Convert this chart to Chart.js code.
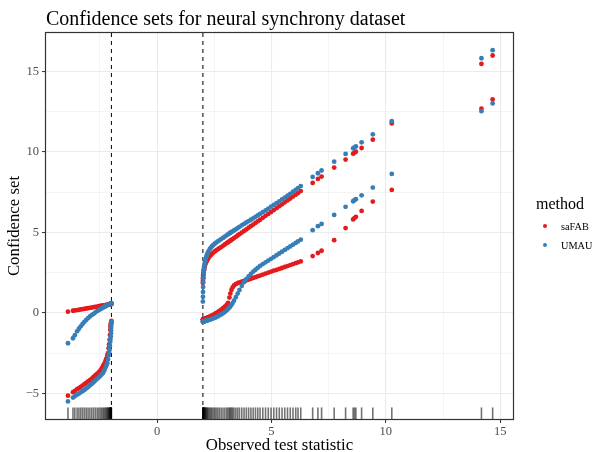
<!DOCTYPE html>
<html>
<head>
<meta charset="utf-8">
<title>Confidence sets for neural synchrony dataset</title>
<script src="https://cdn.jsdelivr.net/npm/chart.js@4.4.1/dist/chart.umd.min.js"></script>
<style>
  html, body { margin: 0; padding: 0; background: #fff; }
  #wrap { position: relative; width: 600px; height: 452px; font-family: "Liberation Serif", serif; color: #000; }
  #chart { display: block; }
  #title { position: absolute; left: 46px; top: 8px; font-size: 20px; line-height: 21px; white-space: nowrap; }
  #legend { position: absolute; left: 536px; top: 196px; width: 64px; height: 70px; }
  #legend .lg-title { position: absolute; left: 0; top: 0; font-size: 16px; line-height: 16px; }
  #legend .lg-item { position: absolute; left: 0; height: 19px; width: 64px; }
  #legend .dot { position: absolute; left: 6.7px; top: 7.2px; width: 4.6px; height: 4.6px; border-radius: 50%; }
  #legend .lg-text { position: absolute; left: 25px; top: 0; font-size: 10.3px; line-height: 19px; }
</style>
</head>
<body>
<div id="wrap">
  <canvas id="chart" width="600" height="452"></canvas>
  <div id="title">Confidence sets for neural synchrony dataset</div>
  <div id="legend"></div>
</div>
<script>
// observed z statistics (selected: |z| > 2) and the interval ends for each method
const zStat = [
  -3.90, -3.68, -3.60, -3.50, -3.42, -3.34, -3.26, -3.18, -3.10, -3.02,
  -2.94, -2.86, -2.78, -2.70, -2.62, -2.55, -2.48, -2.42, -2.36, -2.31,
  -2.26, -2.22, -2.18, -2.15, -2.12, -2.10, -2.08, -2.065, -2.05, -2.04,
  -2.03, -2.02, -2.015, -2.01, -2.005, -2.00,
  2.000, 2.003, 2.006, 2.010, 2.015, 2.020, 2.030, 2.040, 2.050, 2.060,
  2.080, 2.100, 2.120, 2.150, 2.180, 2.210, 2.250, 2.300, 2.350, 2.400,
  2.460, 2.520, 2.580, 2.650, 2.720, 2.800, 2.880, 2.960, 3.040, 3.100,
  3.160, 3.200, 3.250, 3.300, 3.360, 3.440, 3.520, 3.600, 3.700, 3.800,
  3.900, 4.000, 4.100, 4.200, 4.300, 4.400, 4.500, 4.620, 4.740, 4.860,
  4.980, 5.100, 5.220, 5.340, 5.460, 5.580, 5.700, 5.820, 5.940, 6.060,
  6.160, 6.280,
  6.80, 7.03, 7.19, 7.74, 8.24, 8.57, 8.63, 8.69, 8.94, 9.43, 10.26, 14.18, 14.67
];

const safabLower = [
  -5.15, -4.93, -4.85, -4.75, -4.68, -4.60, -4.52, -4.43, -4.35, -4.26,
  -4.18, -4.09, -3.98, -3.88, -3.78, -3.69, -3.58, -3.44, -3.29, -3.16,
  -2.99, -2.84, -2.66, -2.51, -2.20, -1.96, -1.68, -1.37, -1.06, -0.86,
  -0.78, -0.70, -0.65, -0.60, -0.55, -0.50,
  -0.42, -0.42, -0.42, -0.41, -0.41, -0.41, -0.40, -0.40, -0.39, -0.39,
  -0.38, -0.36, -0.35, -0.33, -0.31, -0.29, -0.27, -0.24, -0.20, -0.16,
  -0.12, -0.07, -0.02, 0.05, 0.12, 0.20, 0.29, 0.39, 0.50, 0.62,
  0.95, 1.20, 1.42, 1.58, 1.70, 1.79, 1.85, 1.90, 1.94, 1.98,
  2.02, 2.07, 2.12, 2.17, 2.22, 2.27, 2.32, 2.38, 2.44, 2.50,
  2.56, 2.62, 2.67, 2.73, 2.79, 2.85, 2.91, 2.97, 3.03, 3.09,
  3.14, 3.20,
  3.53, 3.72, 3.86, 4.52, 5.27, 5.81, 5.89, 5.97, 6.34, 6.92, 7.64, 12.69, 13.27
];

const safabUpper = [
  0.07, 0.13, 0.15, 0.17, 0.19, 0.21, 0.23, 0.25, 0.27, 0.29,
  0.31, 0.33, 0.35, 0.37, 0.39, 0.41, 0.43, 0.44, 0.46, 0.47,
  0.48, 0.49, 0.50, 0.51, 0.52, 0.52, 0.53, 0.53, 0.54, 0.54,
  0.54, 0.55, 0.55, 0.55, 0.55, 0.55,
  1.86, 2.00, 2.12, 2.22, 2.32, 2.40, 2.52, 2.62, 2.70, 2.78,
  2.90, 3.00, 3.08, 3.18, 3.26, 3.33, 3.42, 3.52, 3.60, 3.67,
  3.75, 3.82, 3.88, 3.95, 4.02, 4.09, 4.17, 4.25, 4.33, 4.39,
  4.45, 4.49, 4.54, 4.59, 4.65, 4.73, 4.81, 4.89, 4.99, 5.09,
  5.19, 5.29, 5.39, 5.49, 5.59, 5.69, 5.79, 5.91, 6.03, 6.15,
  6.27, 6.39, 6.51, 6.63, 6.75, 6.87, 6.99, 7.11, 7.23, 7.35,
  7.45, 7.57,
  8.08, 8.33, 8.47, 9.03, 9.53, 9.90, 9.96, 10.02, 10.25, 10.77, 11.78, 15.48, 16.00
];

const umauLower = [
  -5.51, -5.27, -5.19, -5.09, -5.02, -4.94, -4.87, -4.79, -4.70, -4.61,
  -4.51, -4.42, -4.32, -4.21, -4.10, -4.01, -3.91, -3.82, -3.72, -3.58,
  -3.42, -3.28, -3.13, -2.90, -2.65, -2.48, -2.30, -2.06, -1.80, -1.62,
  -1.45, -1.27, -1.10, -0.92, -0.74, -0.55,
  -0.55, -0.55, -0.55, -0.55, -0.55, -0.54, -0.54, -0.54, -0.53, -0.53,
  -0.52, -0.51, -0.50, -0.49, -0.47, -0.46, -0.44, -0.42, -0.40, -0.37,
  -0.34, -0.31, -0.27, -0.22, -0.16, -0.10, -0.03, 0.06, 0.16, 0.24,
  0.33, 0.40, 0.50, 0.61, 0.76, 0.97, 1.20, 1.42, 1.68, 1.91,
  2.10, 2.27, 2.42, 2.56, 2.68, 2.80, 2.92, 3.03, 3.14, 3.25,
  3.36, 3.47, 3.58, 3.69, 3.80, 3.91, 4.02, 4.13, 4.24, 4.35,
  4.44, 4.55,
  5.14, 5.39, 5.53, 6.09, 6.59, 6.94, 7.00, 7.07, 7.31, 7.79, 8.64, 12.54, 13.02
];

const umauUpper = [
  -1.89, -1.58, -1.39, -1.15, -0.99, -0.84, -0.69, -0.56, -0.44, -0.33,
  -0.22, -0.14, -0.06, 0.03, 0.11, 0.17, 0.23, 0.28, 0.33, 0.37,
  0.41, 0.44, 0.47, 0.49, 0.51, 0.53, 0.54, 0.55, 0.56, 0.57,
  0.58, 0.58, 0.59, 0.59, 0.60, 0.60,
  0.70, 1.00, 1.30, 1.60, 1.90, 2.15, 2.45, 2.65, 2.80, 2.90,
  3.08, 3.22, 3.35, 3.50, 3.62, 3.72, 3.84, 3.96, 4.06, 4.14,
  4.22, 4.30, 4.37, 4.44, 4.51, 4.59, 4.66, 4.74, 4.82, 4.88,
  4.94, 4.98, 5.02, 5.07, 5.12, 5.19, 5.27, 5.35, 5.44, 5.53,
  5.62, 5.70, 5.79, 5.88, 5.97, 6.06, 6.15, 6.26, 6.37, 6.48,
  6.60, 6.71, 6.82, 6.93, 7.05, 7.16, 7.28, 7.39, 7.53, 7.65,
  7.76, 7.88,
  8.45, 8.68, 8.85, 9.40, 9.88, 10.23, 10.29, 10.35, 10.60, 11.10, 11.92, 15.83, 16.33
];

const methods = ['saFAB', 'UMAU'];
const methodColors = ['#E41A1C', '#377EB8'];
const cutoffs = [-2, 2];
const xTicks = [-2.5, 0, 2.5, 5, 7.5, 10, 12.5, 15];
const yTicks = [-5, -2.5, 0, 2.5, 5, 7.5, 10, 12.5, 15];

const FONT = 'Liberation Serif';
Chart.defaults.font.family = FONT;

function isMajor(v) {
  return Math.abs(v % 5) < 1e-9;
}

function tickText(v) {
  if (!isMajor(v)) return '';
  return v < 0 ? '\u2212' + Math.abs(v) : String(v);
}

// one point per interval end, lower and upper ends share the z value
function intervalPoints(lower, upper) {
  const pts = [];
  zStat.forEach((z, i) => {
    pts.push({ x: z, y: lower[i] });
    pts.push({ x: z, y: upper[i] });
  });
  return pts;
}

const gridOpts = {
  color: '#EBEBEB',
  lineWidth: ctx => (ctx.tick && isMajor(ctx.tick.value) ? 1.1 : 0.55),
  tickColor: ctx => (ctx.tick && isMajor(ctx.tick.value) ? '#333333' : 'rgba(0,0,0,0)'),
  tickWidth: 1,
  tickLength: 4,
  drawTicks: true
};

// rug of observed statistics along the bottom, plus the dashed selection cutoffs
const rugAndCutoffs = {
  id: 'rugAndCutoffs',
  beforeDatasetsDraw(chart) {
    const { ctx, chartArea: a, scales: { x } } = chart;
    ctx.save();
    ctx.strokeStyle = 'rgba(0,0,0,0.55)';
    ctx.lineWidth = 1.6;
    const len = (a.bottom - a.top) * 0.03;
    zStat.forEach(z => {
      const px = x.getPixelForValue(z);
      ctx.beginPath();
      ctx.moveTo(px, a.bottom);
      ctx.lineTo(px, a.bottom - len);
      ctx.stroke();
    });
    ctx.strokeStyle = '#000';
    ctx.lineWidth = 1;
    ctx.setLineDash([4, 4]);
    cutoffs.forEach(c => {
      const px = x.getPixelForValue(c);
      ctx.beginPath();
      ctx.moveTo(px, a.top);
      ctx.lineTo(px, a.bottom);
      ctx.stroke();
    });
    ctx.restore();
  }
};

const panelBorder = {
  id: 'panelBorder',
  afterDraw(chart) {
    const { ctx, chartArea: a } = chart;
    ctx.save();
    ctx.strokeStyle = '#333333';
    ctx.lineWidth = 1.2;
    ctx.strokeRect(a.left - 0.5, a.top - 0.5, a.right - a.left + 1, a.bottom - a.top + 1);
    ctx.restore();
  }
};

new Chart(document.getElementById('chart').getContext('2d'), {
  type: 'scatter',
  data: {
    datasets: [
      {
        label: methods[0],
        data: intervalPoints(safabLower, safabUpper),
        backgroundColor: methodColors[0],
        borderWidth: 0,
        pointRadius: 2.4,
        order: 2
      },
      {
        label: methods[1],
        data: intervalPoints(umauLower, umauUpper),
        backgroundColor: methodColors[1],
        borderWidth: 0,
        pointRadius: 2.4,
        order: 1
      }
    ]
  },
  options: {
    responsive: false,
    animation: false,
    devicePixelRatio: 1,
    events: [],
    layout: { padding: { top: 33, right: 87, bottom: 0, left: 0 } },
    plugins: {
      legend: { display: false },
      title: { display: false },
      tooltip: { enabled: false }
    },
    scales: {
      x: {
        type: 'linear',
        min: -4.86,
        max: 15.56,
        afterBuildTicks: s => { s.ticks = xTicks.map(v => ({ value: v })); },
        afterFit: s => { s.height = 33; },
        grid: gridOpts,
        border: { display: false },
        ticks: {
          callback: v => tickText(v),
          color: '#4D4D4D',
          font: { size: 12.5 },
          padding: 1,
          maxRotation: 0,
          autoSkip: false
        },
        title: {
          display: true,
          text: 'Observed test statistic',
          color: '#000',
          font: { size: 16.8, lineHeight: 0.72 },
          padding: { top: 0, bottom: 0 }
        }
      },
      y: {
        type: 'linear',
        min: -6.6,
        max: 17.4,
        afterBuildTicks: s => { s.ticks = yTicks.map(v => ({ value: v })); },
        afterFit: s => { s.width = 46; },
        grid: gridOpts,
        border: { display: false },
        ticks: {
          callback: v => tickText(v),
          color: '#4D4D4D',
          font: { size: 12.5 },
          padding: 3,
          autoSkip: false
        },
        title: {
          display: true,
          text: 'Confidence set',
          color: '#000',
          font: { size: 16.8, lineHeight: 1 },
          padding: { top: 6, bottom: 0 }
        }
      }
    }
  },
  plugins: [rugAndCutoffs, panelBorder]
});

// legend: title plus one coloured dot per method
const legendBox = document.getElementById('legend');
legendBox.innerHTML = '<div class="lg-title">method</div>' +
  methods.map((m, i) =>
    `<div class="lg-item" style="top:${20.5 + i * 19}px">` +
    `<span class="dot" style="background:${methodColors[i]}"></span>` +
    `<span class="lg-text">${m}</span></div>`
  ).join('');
</script>
</body>
</html>
